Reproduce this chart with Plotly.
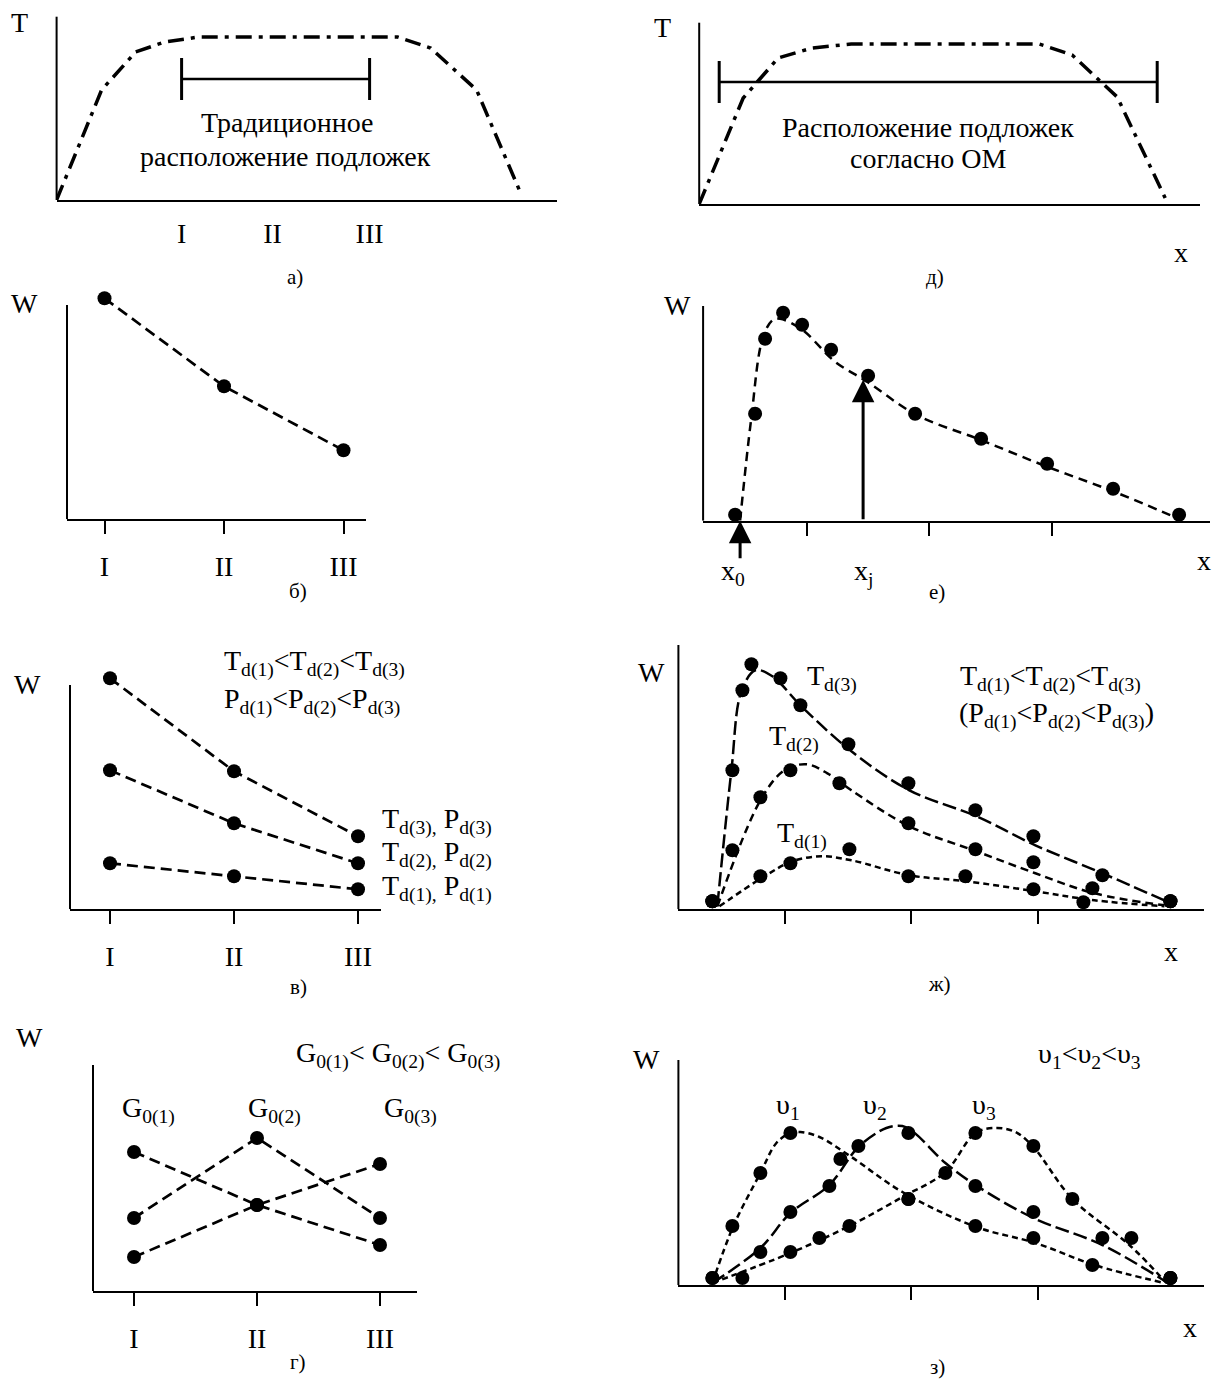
import plotly.graph_objects as go

W, H = 1215, 1382
FONT = "Liberation Serif"
FS = 28
CAP_FS = 21

# ---------------- data (arbitrary units) ----------------
roman = ["I", "II", "III"]

# а) temperature profile, traditional substrate placement
a_x = [0, 45, 79, 108, 142, 341, 374, 420, 464]
a_T = [0, 110, 148, 158, 163, 163, 152, 110, 7]
a_pos = [125, 216, 313]            # positions of I, II, III
a_bar_T = 121                       # level of the placement bar

# д) temperature profile, placement according to OM
d_x = [0, 44, 79, 113, 152, 340, 373, 418, 466]
d_T = [0, 106, 146, 156, 160, 160, 149, 107, 6]
d_bar_x = [20, 458]
d_bar_T = 122

# б)
b_W = [221, 133, 69]

# в)
v_W3 = [231, 138, 73]
v_W2 = [139, 86, 46]
v_W1 = [46, 33, 20]

# г)
g_W1 = [139, 86, 46]
g_W2 = [73, 153, 73]
g_W3 = [34, 86, 127]

# е) points and fitted curve
e_px = [32, 52, 62, 80, 99, 128, 165, 212, 278, 344, 410, 476]
e_pW = [6, 107, 182, 208, 196, 171, 145, 107, 82, 57, 32, 6]
e_cx = [37, 48, 60, 70, 77, 99, 132, 164, 213, 277, 344, 411, 473]
e_cW = [0, 101, 184, 201, 202, 191, 159, 139, 106, 81, 54, 29, 3]
e_x0 = 37
e_xj = 160
e_Wj = 141
e_ticks = [104, 226, 349]

# ж) points and fitted curves for T_d(1..3)
zh3_px = [34, 54, 64, 73, 102, 122, 170, 230, 297, 355, 424, 492]
zh3_pW = [8, 139, 219, 245, 231, 204, 165, 126, 99, 73, 34, 8]
zh2_px = [34, 54, 82, 112, 161, 230, 297, 355, 414, 492]
zh2_pW = [8, 59, 112, 139, 126, 86, 60, 47, 21, 8]
zh1_px = [34, 82, 112, 171, 230, 287, 355, 405, 492]
zh1_pW = [8, 33, 46, 60, 33, 33, 20, 7, 8]
zh3_cx = [39, 53, 63, 77, 94, 122, 173, 231, 298, 357, 424, 488]
zh3_cW = [4, 139, 218, 239, 233, 204, 158, 119, 93, 64, 36, 8]
zh2_cx = [39, 82, 106, 128, 149, 173, 231, 298, 357, 416, 486]
zh2_cW = [3, 109, 139, 145, 136, 119, 83, 58, 36, 16, 4]
zh1_cx = [41, 86, 114, 143, 173, 231, 288, 357, 416, 486]
zh1_cW = [3, 33, 48, 53, 49, 34, 28, 18, 9, 3]
zh_ticks = [107, 233, 360]

# з) points and fitted curves for υ1..υ3
z1_px = [34, 54, 82, 112, 230, 297, 355, 414, 492]
z1_pW = [7, 59, 112, 152, 86, 59, 47, 20, 7]
z2_px = [34, 82, 112, 151, 162, 180, 230, 297, 355, 424, 492]
z2_pW = [7, 33, 73, 99, 126, 139, 152, 99, 73, 47, 7]
z3_px = [64, 112, 141, 171, 230, 267, 297, 355, 394, 453, 492]
z3_pW = [7, 33, 47, 59, 86, 112, 152, 139, 86, 47, 7]
z1_cx = [34, 55, 82, 98, 112, 122, 141, 173, 224, 298, 357, 416, 486]
z1_cW = [2, 59, 112, 142, 152, 153, 148, 128, 93, 58, 42, 20, 2]
z2_cx = [34, 82, 112, 151, 180, 208, 224, 235, 267, 297, 355, 424, 488]
z2_cW = [2, 37, 72, 100, 138, 157, 159, 153, 122, 100, 67, 40, 3]
z3_cx = [34, 112, 173, 224, 267, 297, 318, 337, 355, 394, 451, 488]
z3_cW = [2, 32, 60, 88, 113, 152, 157, 153, 138, 86, 40, 2]

# ---------------- layout of the eight panels (pixels) ----------------
# idx: (y-axis x, x-axis y, x-axis length, top of plotting box, y-axis line height)
panels = {
    1: (56.6, 200.0, 500.2, 4, 183.3),
    2: (699.2, 204.0, 500.8, 4, 181.3),
    3: (67.0, 519.3, 298.5, 288, 214.3),
    4: (703.1, 520.7, 506.8, 290, 214.7),
    5: (70.0, 909.3, 310.8, 652, 224.3),
    6: (678.4, 909.3, 525.6, 636, 264.3),
    7: (93.0, 1291.0, 324.0, 1045, 226.0),
    8: (678.4, 1285.0, 525.6, 1045, 225.0),
}
# categorical panels: (pixel of first category, spacing)
cat_geom = {3: (37.5, 119.5), 5: (40.0, 124.0), 7: (41.0, 123.0)}

fig = go.Figure()
layout = dict(width=W, height=H, margin=dict(l=0, r=0, t=0, b=0),
              paper_bgcolor="white", plot_bgcolor="white", showlegend=False,
              font=dict(family=FONT, size=FS, color="black"))
shapes = []
for i, (ox, oy, xl, top, yh) in panels.items():
    sfx = "" if i == 1 else str(i)
    xa = dict(domain=[ox / W, (ox + xl) / W], anchor="y" + sfx,
              showline=True, linecolor="black", linewidth=2,
              showgrid=False, zeroline=False, ticks="", showticklabels=False,
              tickfont=dict(family=FONT, size=FS, color="black"))
    if i in cat_geom:
        c0, sp = cat_geom[i]
        xa.update(type="category", range=[-c0 / sp, (xl - c0) / sp],
                  categoryorder="array", categoryarray=roman,
                  ticks="outside", ticklen=13, tickwidth=2, tickcolor="black",
                  showticklabels=True, ticklabelstandoff=8)
    else:
        xa.update(range=[0, xl])
    ya = dict(domain=[(H - oy) / H, (H - top) / H], anchor="x" + sfx,
              range=[0, oy - top], visible=False, showgrid=False, zeroline=False)
    layout["xaxis" + sfx] = xa
    layout["yaxis" + sfx] = ya
    shapes.append(dict(type="line", xref=("x" + sfx + " domain"), yref="y" + sfx,
                       x0=0, x1=0, y0=0, y1=yh, line=dict(color="black", width=2)))

# tick settings for numeric panels
layout["xaxis"].update(tickvals=a_pos, ticktext=roman, showticklabels=True,
                       ticklabelstandoff=7)
for k, tv in ((4, e_ticks), (6, zh_ticks), (8, zh_ticks)):
    layout["xaxis%d" % k].update(tickvals=tv, ticks="outside", ticklen=13,
                                  tickwidth=2, tickcolor="black")

DASHDOT = "16px,7px,4px,7px"
MK = dict(color="black", size=14)


def add(i, x, y, mode="lines", dash="solid", width=2.5, shape="linear", marker=None):
    sfx = "" if i == 1 else str(i)
    kw = dict(x=x, y=y, mode=mode, xaxis="x" + sfx, yaxis="y" + sfx,
              cliponaxis=False, hoverinfo="skip",
              line=dict(color="black", width=width, dash=dash, shape=shape))
    if marker:
        kw["marker"] = marker
    fig.add_trace(go.Scatter(**kw))


def add_bar(i, xs, level):
    cap = 21
    add(i, [xs[0], xs[-1]], [level, level], width=2.5)
    add(i, [xs[0], xs[0], None, xs[-1], xs[-1]],
        [level - cap, level + cap, None, level - cap, level + cap], width=3)


# а)
add(1, a_x, a_T, dash=DASHDOT, width=3.5)
add_bar(1, a_pos, a_bar_T)
# д)
add(2, d_x, d_T, dash=DASHDOT, width=3.5)
add_bar(2, d_bar_x, d_bar_T)
# б)
LD = "11px,6px"
add(3, roman, b_W, mode="lines+markers", dash=LD, width=2.7, marker=MK)
# в)
for s in (v_W3, v_W2, v_W1):
    add(5, roman, s, mode="lines+markers", dash=LD, width=2.7, marker=MK)
# г)
for s in (g_W1, g_W2, g_W3):
    add(7, roman, s, mode="lines+markers", dash=LD, width=2.7, marker=MK)
# е)
add(4, e_cx, e_cW, dash="9px,6px", shape="spline")
add(4, e_px, e_pW, mode="markers", marker=MK)
# ж)
add(6, zh3_cx, zh3_cW, dash="14px,5px", shape="spline")
add(6, zh2_cx, zh2_cW, dash="8px,5px", shape="spline")
add(6, zh1_cx, zh1_cW, dash="6px,4px", shape="spline")
for px_, pw_ in ((zh3_px, zh3_pW), (zh2_px, zh2_pW), (zh1_px, zh1_pW)):
    add(6, px_, pw_, mode="markers", marker=MK)
# з)
add(8, z1_cx, z1_cW, dash="6px,4px", shape="spline")
add(8, z2_cx, z2_cW, dash="14px,5px", shape="spline")
add(8, z3_cx, z3_cW, dash="6px,4px", shape="spline")
for px_, pw_ in ((z1_px, z1_pW), (z2_px, z2_pW), (z3_px, z3_pW)):
    add(8, px_, pw_, mode="markers", marker=MK)

# ---------------- annotations ----------------
ann = []


def txt(x, y, t, size=FS, xanchor="center"):
    ann.append(dict(x=x / W, y=1 - y / H, xref="paper", yref="paper", text=t,
                    showarrow=False, xanchor=xanchor, yanchor="middle",
                    font=dict(family=FONT, size=size, color="black")))


def arrow(i, x, y, ax, ay):
    ann.append(dict(xref="x%d" % i, yref="y%d" % i, axref="x%d" % i, ayref="y%d" % i,
                    x=x, y=y, ax=ax, ay=ay, text="", showarrow=True,
                    arrowhead=2, arrowsize=1.5, arrowwidth=3, arrowcolor="black",
                    standoff=0))


def ineq(s, o="", c="", gap=""):
    return (o + s + "<sub>d(1)</sub>&lt;" + gap + s + "<sub>d(2)</sub>&lt;" + gap + s
            + "<sub>d(3)</sub>" + c)


# а)
txt(19, 23, "T")
txt(287, 123, "Традиционное")
txt(285, 156, "расположение подложек")
txt(295, 277, "а)", CAP_FS)
# д)
txt(662, 27, "T")
txt(928, 127, "Расположение подложек")
txt(928, 159, "согласно ОМ")
txt(1181, 252, "x", FS)
txt(935, 277, "д)", CAP_FS)
# б)
txt(24, 304, "W")
txt(298, 591, "б)", CAP_FS)
# е)
txt(677, 305, "W")
txt(733, 572, "x<sub>0</sub>", FS)
txt(863, 572, "x<sub>j</sub>", FS)
txt(1204, 560, "x", FS)
txt(937, 592, "е)", CAP_FS)
arrow(4, e_x0, 0, e_x0, -39)
arrow(4, e_xj, e_Wj, e_xj, 0)
# в)
txt(27, 684, "W")
txt(222, 663, ineq("T"), xanchor="left")
txt(222, 701, ineq("P"), xanchor="left")
txt(380, 821, "T<sub>d(3),</sub> P<sub>d(3)</sub>", xanchor="left")
txt(380, 854, "T<sub>d(2),</sub> P<sub>d(2)</sub>", xanchor="left")
txt(380, 888, "T<sub>d(1),</sub> P<sub>d(1)</sub>", xanchor="left")
txt(298, 987, "в)", CAP_FS)
# ж)
txt(651, 672, "W")
txt(805, 678, "T<sub>d(3)</sub>", xanchor="left")
txt(767, 738, "T<sub>d(2)</sub>", xanchor="left")
txt(775, 835, "T<sub>d(1)</sub>", xanchor="left")
txt(958, 678, ineq("T"), xanchor="left")
txt(957, 715, ineq("P", "(", ")"), xanchor="left")
txt(1171, 951, "x", FS)
txt(939, 984, "ж)", CAP_FS)
# г)
txt(29, 1037, "W")
txt(294, 1055, "G<sub>0(1)</sub>&lt; G<sub>0(2)</sub>&lt; G<sub>0(3)</sub>", xanchor="left")
txt(120, 1110, "G<sub>0(1)</sub>", xanchor="left")
txt(246, 1110, "G<sub>0(2)</sub>", xanchor="left")
txt(382, 1110, "G<sub>0(3)</sub>", xanchor="left")
txt(298, 1362, "г)", CAP_FS)
# з)
txt(646, 1059, "W")
txt(1036, 1055, "υ<sub>1</sub>&lt;υ<sub>2</sub>&lt;υ<sub>3</sub>", xanchor="left")
txt(774, 1106, "υ<sub>1</sub>", xanchor="left")
txt(861, 1106, "υ<sub>2</sub>", xanchor="left")
txt(970, 1106, "υ<sub>3</sub>", xanchor="left")
txt(1190, 1327, "x", FS)
txt(937, 1367, "з)", CAP_FS)

layout["annotations"] = ann
layout["shapes"] = shapes
fig.update_layout(**layout)
fig.write_html(
    "out.html",
    config={"displayModeBar": False, "staticPlot": True},
    post_script="document.body.style.margin='0px';document.body.style.padding='0px';"
                "document.body.style.overflow='hidden';",
)
